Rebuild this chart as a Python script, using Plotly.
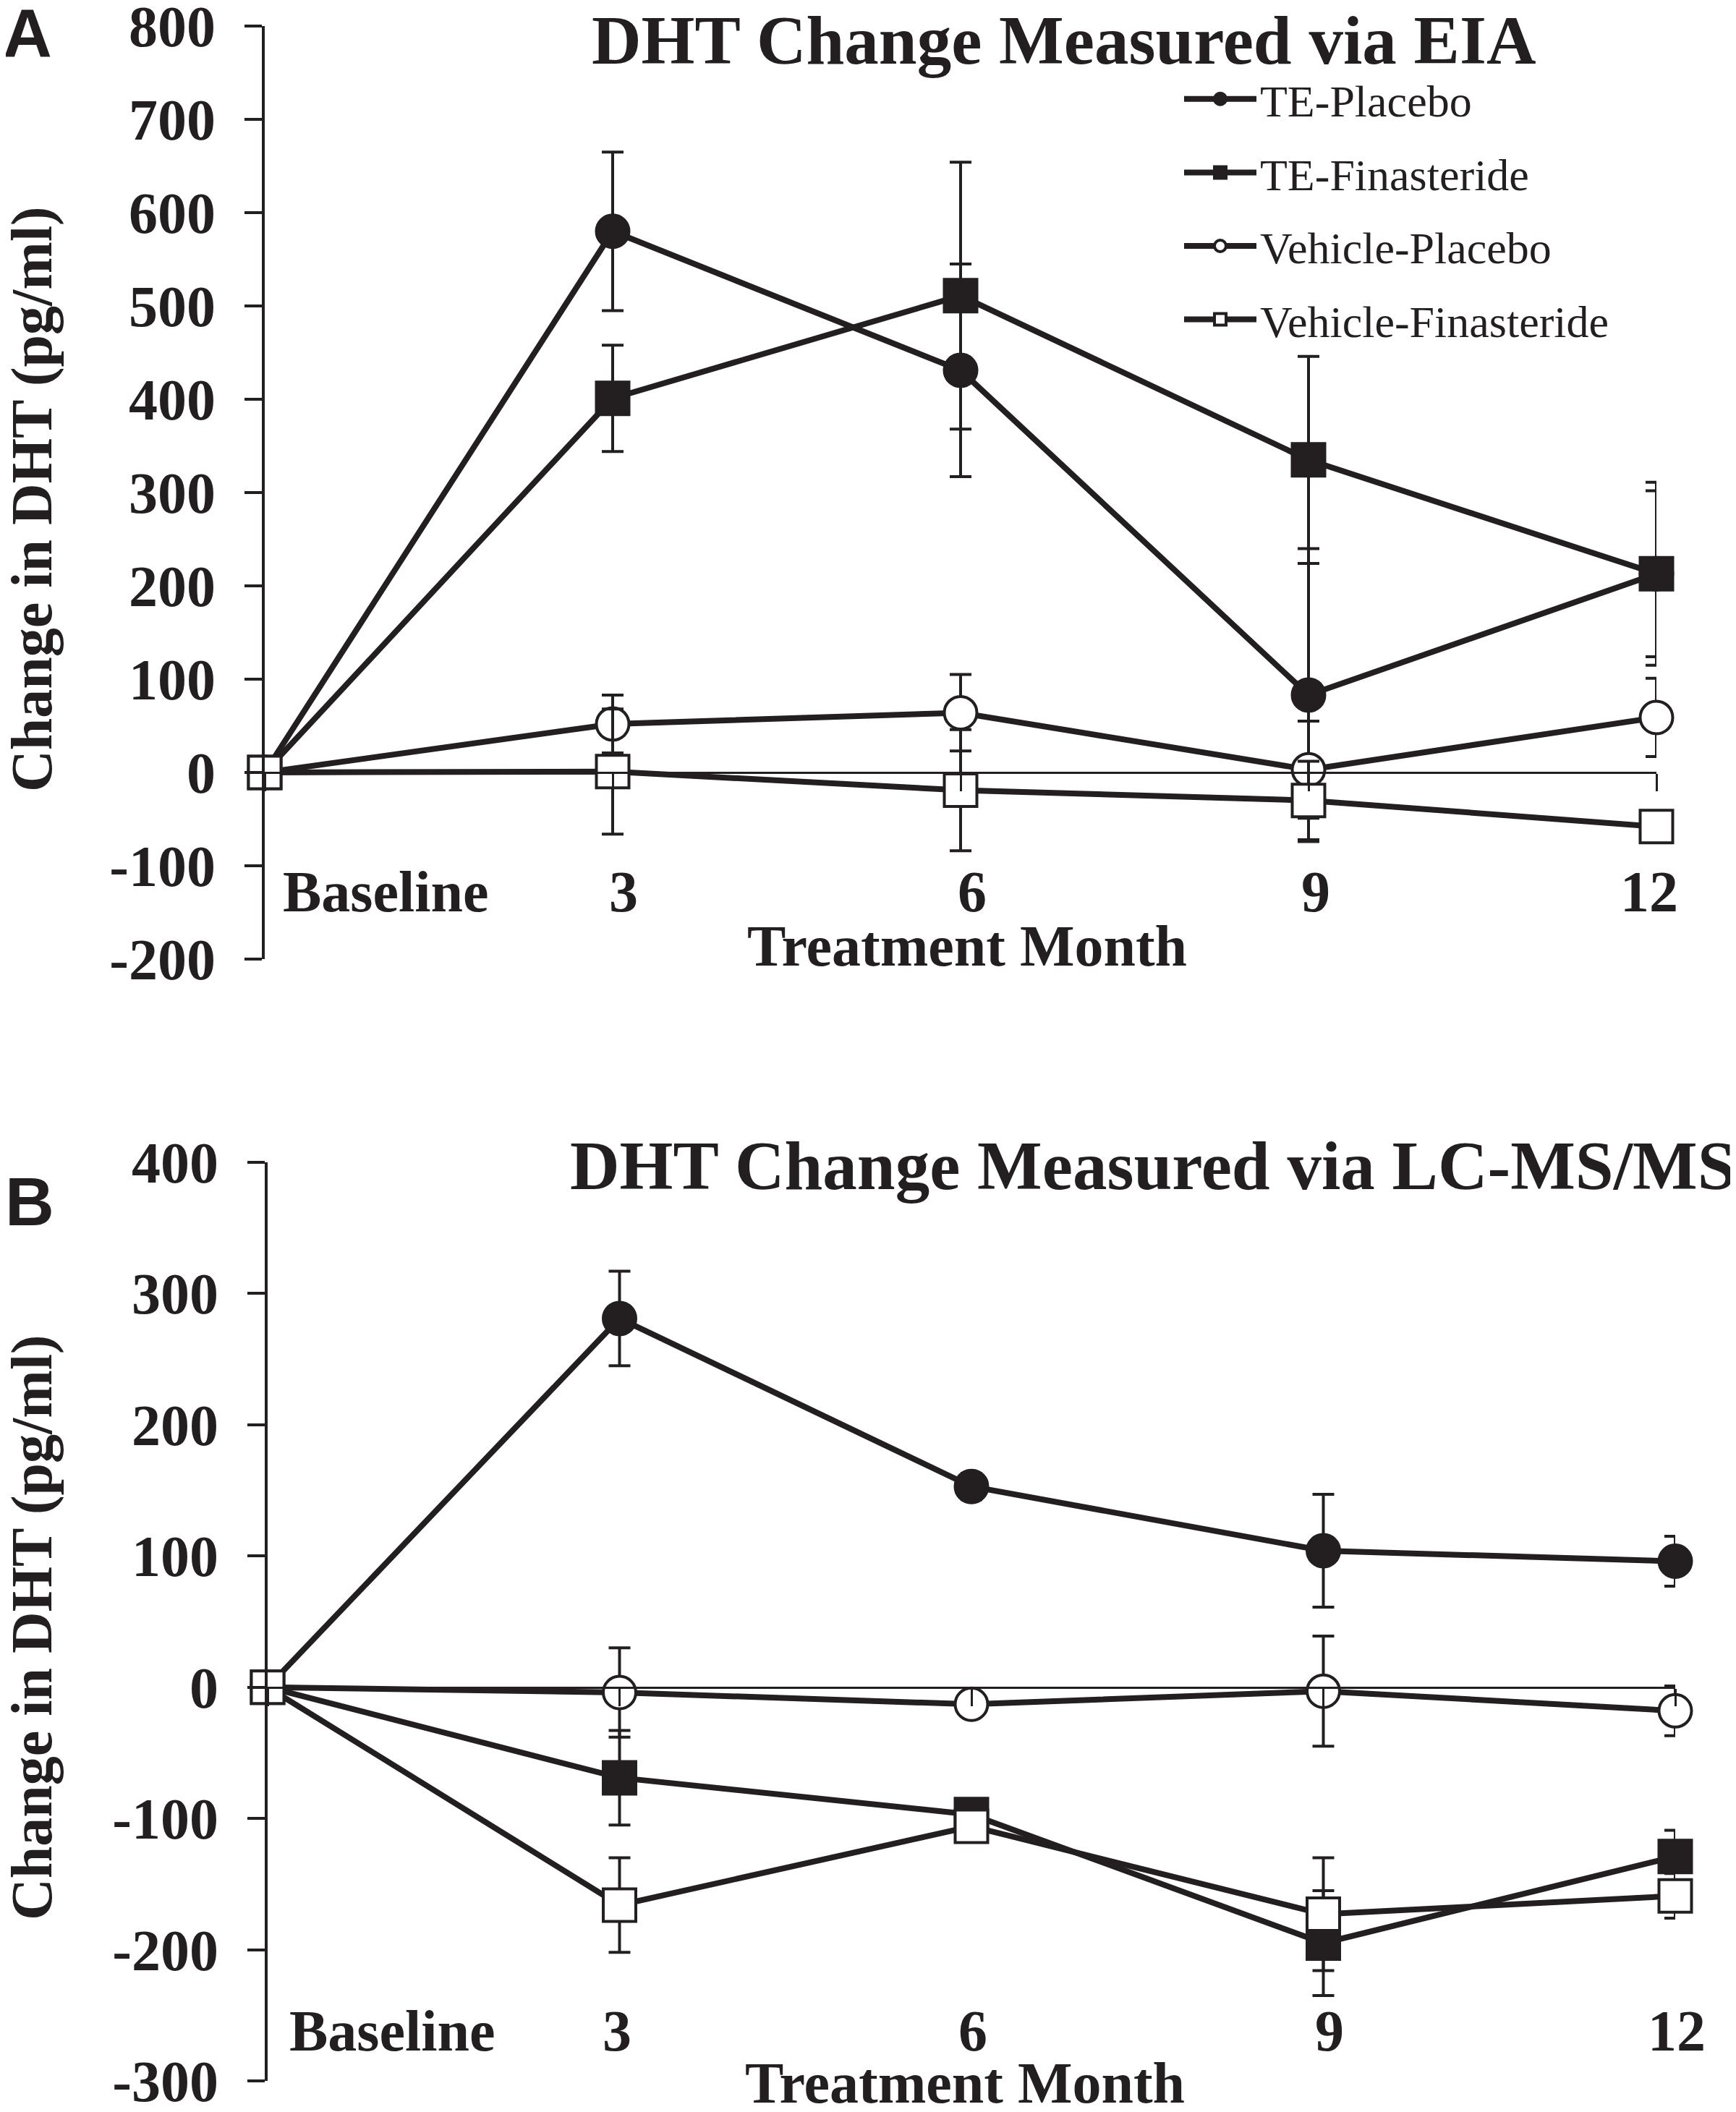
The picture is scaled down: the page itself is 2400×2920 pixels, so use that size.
import plotly.graph_objects as go

# ---------------- data ----------------
months = [0, 3, 6, 9, 12]
month_labels = ["Baseline", "3", "6", "9", "12"]
series_names = ["TE-Placebo", "TE-Finasteride", "Vehicle-Placebo", "Vehicle-Finasteride"]

# Panel A: DHT change measured via EIA (pg/ml)
eia_te_placebo = [0, 580, 431, 83, 213]
eia_te_placebo_err = [0, 85, 114, 157, 89]
eia_te_finasteride = [0, 401, 511, 335, 213]
eia_te_finasteride_err = [0, 57, 143, 111, 98]
eia_vehicle_placebo = [0, 52, 64, 3, 59]
eia_vehicle_placebo_err = [0, 31, 41, 52, 42]
eia_vehicle_finasteride = [0, 1, -19, -30, -58]
eia_vehicle_finasteride_err = [0, 67, 65, 42, 10]

# Panel B: DHT change measured via LC-MS/MS (pg/ml)
lcms_te_placebo = [0, 281, 153, 104, 96]
lcms_te_placebo_err = [0, 36, 10, 43, 19]
lcms_te_finasteride = [0, -69, -97, -195, -129]
lcms_te_finasteride_err = [0, 36, 10, 40, 20]
lcms_vehicle_placebo = [0, -4, -13, -3, -18]
lcms_vehicle_placebo_err = [0, 34, 8, 42, 19]
lcms_vehicle_finasteride = [0, -166, -106, -173, -159]
lcms_vehicle_finasteride_err = [0, 36, 8, 43, 17]

y_ticks_a = [-200, -100, 0, 100, 200, 300, 400, 500, 600, 700, 800]
y_ticks_b = [-300, -200, -100, 0, 100, 200, 300, 400]

# ---------------- layout helpers ----------------
W, H = 2384, 2904      # figure size (page body adds an 8px offset)
OFF = 8


def px(x):
    return (x - OFF) / W


def py(y):
    return 1 - (y - OFF) / H


SERIF = "Liberation Serif"
BLACK = "#231f20"
symbols = ["circle", "square", "circle", "square"]
fills = [BLACK, BLACK, "white", "white"]

range_a = [-200, 800]
range_b = [-300, 400]
dom_a_x = [px(366), px(2290)]
dom_a_y = [py(1326), py(36)]
dom_b_x = [px(370), px(2316)]
dom_b_y = [py(2877), py(1607)]

# small horizontal nudges of the category labels (pixels)
label_shift_a = [23, 15, 16, 10, -10]
label_shift_b = [28, -4, 2, 8, 2]


def zero_pos(dom, rng):
    return dom[0] + (0 - rng[0]) / (rng[1] - rng[0]) * (dom[1] - dom[0])


fig = go.Figure()

panel_a = [
    (eia_te_placebo, eia_te_placebo_err),
    (eia_te_finasteride, eia_te_finasteride_err),
    (eia_vehicle_placebo, eia_vehicle_placebo_err),
    (eia_vehicle_finasteride, eia_vehicle_finasteride_err),
]
panel_b = [
    (lcms_te_placebo, lcms_te_placebo_err),
    (lcms_te_finasteride, lcms_te_finasteride_err),
    (lcms_vehicle_placebo, lcms_vehicle_placebo_err),
    (lcms_vehicle_finasteride, lcms_vehicle_finasteride_err),
]

for panel, (xa, ya, show) in zip([panel_a, panel_b], [("x", "y", True), ("x2", "y2", False)]):
    for i, (vals, errs) in enumerate(panel):
        fig.add_trace(go.Scatter(
            x=months, y=vals, xaxis=xa, yaxis=ya,
            name=series_names[i], legendgroup=series_names[i], showlegend=show,
            mode="lines+markers", cliponaxis=False,
            line=dict(color=BLACK, width=8),
            marker=dict(symbol=symbols[i], size=45, color=fills[i],
                        line=dict(color=BLACK, width=4)),
            error_y=dict(type="data", array=errs, symmetric=True,
                         color=BLACK, thickness=4, width=15),
        ))

tickfont = dict(family=SERIF, size=80, color=BLACK, weight="bold")


def xaxis_cfg(dom, ydom, yrng):
    return dict(domain=dom, range=[0, 12], anchor="free", automargin=False,
                position=zero_pos(ydom, yrng),
                showline=True, linecolor=BLACK, linewidth=3,
                tickvals=months, ticks="outside", ticklen=24, tickwidth=3, tickcolor=BLACK,
                showticklabels=False, showgrid=False, zeroline=False)


def yaxis_cfg(dom, rng, ticks, anchor):
    return dict(domain=dom, range=rng, anchor=anchor, automargin=False,
                tickvals=ticks, ticktext=[str(v) for v in ticks],
                showline=True, linecolor=BLACK, linewidth=4,
                ticks="outside", ticklen=24, tickwidth=4, tickcolor=BLACK,
                tickfont=tickfont, ticklabelstandoff=24, ticklabeloverflow="allow",
                showgrid=False, zeroline=False)


fig.update_layout(
    width=W, height=H, autosize=False,
    margin=dict(l=0, r=0, t=0, b=0, pad=0, autoexpand=False),
    paper_bgcolor="white", plot_bgcolor="white",
    xaxis=xaxis_cfg(dom_a_x, dom_a_y, range_a),
    yaxis=yaxis_cfg(dom_a_y, range_a, y_ticks_a, "x"),
    xaxis2=xaxis_cfg(dom_b_x, dom_b_y, range_b),
    yaxis2=yaxis_cfg(dom_b_y, range_b, y_ticks_b, "x2"),
    legend=dict(x=px(1632), y=py(90), xanchor="left", yanchor="top",
                font=dict(family=SERIF, size=62, color=BLACK),
                itemwidth=100, tracegroupgap=18, traceorder="grouped",
                bgcolor="rgba(0,0,0,0)"),
    showlegend=True,
)

annotations = []
labfont = dict(family=SERIF, size=80, color=BLACK, weight="bold")
for xa, ya, ylab, shifts in [("x", "y", -128, label_shift_a), ("x2", "y2", -262, label_shift_b)]:
    for m, lab, sh in zip(months, month_labels, shifts):
        annotations.append(dict(x=m, y=ylab, xref=xa, yref=ya, text=lab, showarrow=False,
                                xanchor="left" if lab == "Baseline" else "center",
                                yanchor="middle", xshift=sh, font=labfont))

titlefont = dict(family=SERIF, size=95, color=BLACK, weight="bold")
axfont = dict(family=SERIF, size=80, color=BLACK, weight="bold")
panelfont = dict(family="Liberation Sans", size=94, color=BLACK, weight="bold")
annotations += [
    dict(x=px(1471), y=py(56), xref="paper", yref="paper", text="DHT Change Measured via EIA",
         showarrow=False, xanchor="center", yanchor="middle", font=titlefont),
    dict(x=px(1594), y=py(1612), xref="paper", yref="paper", text="DHT Change Measured via LC-MS/MS",
         showarrow=False, xanchor="center", yanchor="middle", font=titlefont),
    dict(x=px(1337), y=py(1308), xref="paper", yref="paper", text="Treatment Month",
         showarrow=False, xanchor="center", yanchor="middle", font=axfont),
    dict(x=px(1334), y=py(2880), xref="paper", yref="paper", text="Treatment Month",
         showarrow=False, xanchor="center", yanchor="middle", font=axfont),
    dict(x=px(44), y=py(690), xref="paper", yref="paper", text="Change in DHT (pg/ml)",
         showarrow=False, textangle=-90, xanchor="center", yanchor="middle", font=axfont),
    dict(x=px(44), y=py(2250), xref="paper", yref="paper", text="Change in DHT (pg/ml)",
         showarrow=False, textangle=-90, xanchor="center", yanchor="middle", font=axfont),
    dict(x=px(38), y=py(46), xref="paper", yref="paper", text="A",
         showarrow=False, xanchor="center", yanchor="middle", font=panelfont),
    dict(x=px(41), y=py(1661), xref="paper", yref="paper", text="B",
         showarrow=False, xanchor="center", yanchor="middle", font=panelfont),
]
fig.update_layout(annotations=annotations)

fig.write_html("out.html")
